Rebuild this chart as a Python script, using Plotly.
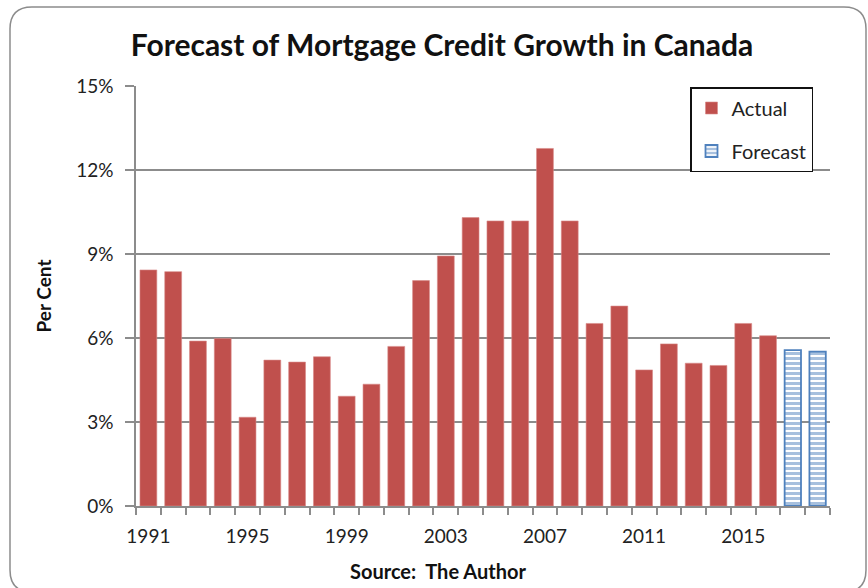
import plotly.graph_objects as go

# Annual mortgage credit growth in Canada (per cent)
actual_years = list(range(1991, 2017))
actual_values = [8.43, 8.37, 5.89, 5.98, 3.17, 5.21, 5.14, 5.33, 3.92, 4.35,
                 5.70, 8.05, 8.93, 10.30, 10.18, 10.18, 12.77, 10.18, 6.52, 7.14,
                 4.86, 5.79, 5.10, 5.02, 6.52, 6.08]
forecast_years = [2017, 2018]
forecast_values = [5.57, 5.51]
label_years = [1991, 1995, 1999, 2003, 2007, 2011, 2015]
y_ticks = [0, 3, 6, 9, 12, 15]

FONT = "Lato"
RED = "#C0504D"
BLUE = "#4F81BD"
AXIS = "#8C8C8C"

W, H = 868, 588
L, R, T, B = 136, 38, 86, 82
PW, PH = W - L - R, H - T - B


def px_to_paper(x, y):
    return (x - L) / PW, (H - B - y) / PH


fig = go.Figure()
fig.add_trace(go.Bar(
    x=actual_years, y=actual_values, name="Actual", width=0.68,
    marker=dict(color=RED, line=dict(color="#D98A88", width=0.6)),
    legendgroup="a",
))
fig.add_trace(go.Bar(
    x=forecast_years, y=forecast_values, name="Forecast", width=0.66,
    marker=dict(color="white", line=dict(color=BLUE, width=1.8),
                pattern=dict(shape="-", fgcolor=BLUE, bgcolor="white",
                             size=5, solidity=0.6, fillmode="overlay")),
    legendgroup="f",
))

# Rounded outer frame of the chart
x0, y0, x1, y1, r = 10, 7, 866, 592, 22


def P(x, y):
    px, py = px_to_paper(x, y)
    return f"{px:.5f},{py:.5f}"


path = (f"M {P(x0 + r, y0)} L {P(x1 - r, y0)} Q {P(x1, y0)} {P(x1, y0 + r)} "
        f"L {P(x1, y1 - r)} Q {P(x1, y1)} {P(x1 - r, y1)} "
        f"L {P(x0 + r, y1)} Q {P(x0, y1)} {P(x0, y1 - r)} "
        f"L {P(x0, y0 + r)} Q {P(x0, y0)} {P(x0 + r, y0)} Z")
fig.add_shape(type="path", path=path, xref="paper", yref="paper",
              line=dict(color=AXIS, width=1.5), layer="below")

fig.add_annotation(text="<b>Source:  The Author</b>", xref="paper", yref="paper",
                   x=px_to_paper(438, 0)[0], y=px_to_paper(0, 571)[1],
                   showarrow=False, font=dict(family=FONT, size=20, color="#111"),
                   xanchor="center", yanchor="middle")

fig.update_layout(
    width=W, height=H,
    margin=dict(l=L, r=R, t=T, b=B),
    paper_bgcolor="white", plot_bgcolor="white",
    barmode="overlay",
    title=dict(text="<b>Forecast of Mortgage Credit Growth in Canada</b>",
               x=px_to_paper(442, 0)[0], xref="paper", xanchor="center",
               y=1 - 45 / H, yanchor="middle",
               font=dict(family=FONT, size=30, color="#111")),
    font=dict(family=FONT, size=19, color="#222"),
    showlegend=True,
    legend=dict(x=px_to_paper(690, 0)[0], y=px_to_paper(0, 87)[1],
                xanchor="left", yanchor="top",
                bordercolor="#111", borderwidth=1.5, bgcolor="white",
                font=dict(family=FONT, size=20, color="#222"),
                tracegroupgap=14, itemwidth=30,
                entrywidth=136, entrywidthmode="pixels"),
    xaxis=dict(range=[1990.5, 2018.5], tickmode="array", tickvals=label_years,
               ticktext=[str(v) for v in label_years],
               ticks="outside", ticklen=12, tickcolor="rgba(0,0,0,0)",
               showgrid=False, zeroline=False,
               showline=True, linecolor=AXIS, linewidth=1.5,
               tickfont=dict(family=FONT, size=19, color="#222"),
               minor=dict(tickmode="linear", tick0=0.5, dtick=1, ticks="outside",
                          ticklen=7, tickcolor=AXIS, tickwidth=1.5, showgrid=False)),
    yaxis=dict(range=[0, 15], tickmode="array", tickvals=y_ticks,
               ticktext=[f"{v}%" for v in y_ticks],
               ticks="outside", ticklen=9, tickcolor=AXIS, tickwidth=1.5,
               ticklabelstandoff=8,
               showgrid=True, gridcolor=AXIS, gridwidth=1.5,
               zeroline=False, showline=True, linecolor=AXIS, linewidth=1.5,
               tickfont=dict(family=FONT, size=19, color="#222"),
               title=dict(text="<b>Per Cent</b>", standoff=20,
                          font=dict(family=FONT, size=19, color="#111"))),
)

fig.write_html("out.html")
